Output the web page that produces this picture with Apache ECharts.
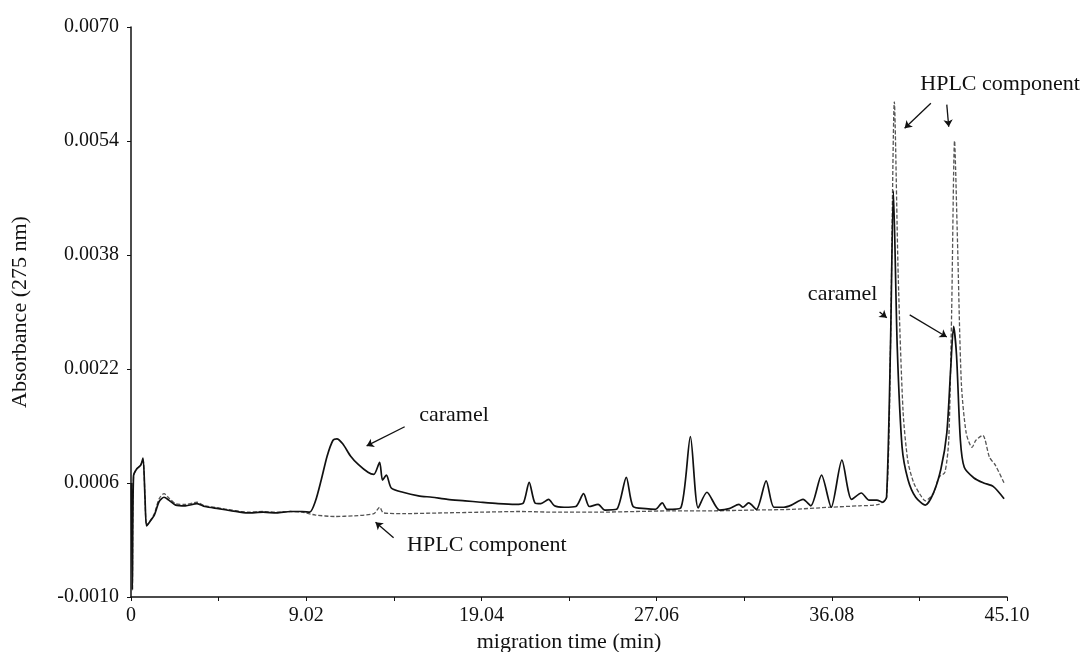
<!DOCTYPE html>
<html>
<head>
<meta charset="utf-8">
<script src="https://cdn.jsdelivr.net/npm/echarts@6/dist/echarts.min.js"></script>
<style>
html,body{margin:0;padding:0;background:#fff;}
#chart{width:1086px;height:652px;}
</style>
</head>
<body>
<div id="chart"></div>
<script>
// ---- data (migration time in min, absorbance at 275 nm) ----
var caramelTime = [0.02,0.07,0.13,0.3,0.5,0.62,0.72,0.8,0.95,1.2,1.45,1.7,1.95,2.3,2.8,3.4,3.8,4.5,5.2,6.0,6.8,7.5,8.2,8.8,9.2,9.5,9.8,10.1,10.4,10.6,10.9,11.3,11.7,12.2,12.5,12.8,12.95,13.15,13.4,14.0,14.8,15.5,16.3,17.2,18.0,18.9,19.8,20.2,20.5,20.8,21.1,21.5,21.8,22.3,22.9,23.3,23.6,24.05,24.4,25.0,25.5,25.85,26.5,27.0,27.35,27.6,28.3,28.8,29.2,29.65,30.3,30.8,31.3,31.5,31.8,32.2,32.7,33.1,33.6,34.0,34.6,35.0,35.55,36.05,36.6,37.1,37.6,38.0,38.4,38.7,38.9,39.1,39.25,39.45,39.7,40.0,40.4,40.9,41.3,41.7,42.0,42.2,42.35,42.5,42.7,42.9,43.4,43.9,44.4,44.95];
var caramelAbs = [0.0006,-0.0009,0.0007,0.0008,0.00085,0.00095,0.0004,0.0,0.00005,0.00015,0.00034,0.0004,0.00036,0.00029,0.00028,0.00031,0.00027,0.00024,0.00021,0.00018,0.00019,0.00018,0.0002,0.0002,0.00019,0.00035,0.00065,0.00098,0.0012,0.00122,0.00115,0.00098,0.00086,0.00075,0.00072,0.00089,0.00064,0.00071,0.00053,0.00047,0.00042,0.0004,0.00037,0.00035,0.00033,0.00031,0.0003,0.00032,0.00061,0.00032,0.00031,0.00037,0.00028,0.00026,0.00027,0.00045,0.00027,0.0003,0.00022,0.00023,0.00068,0.00027,0.00024,0.00023,0.00032,0.00023,0.00025,0.00125,0.00025,0.00047,0.00022,0.00024,0.0003,0.00026,0.00032,0.00023,0.00063,0.00026,0.00026,0.00029,0.00037,0.00028,0.00071,0.00026,0.00092,0.00037,0.00046,0.00036,0.00036,0.00033,0.0004,0.0025,0.0047,0.0025,0.0011,0.00065,0.0004,0.00029,0.00045,0.0008,0.0013,0.0022,0.0028,0.0024,0.0012,0.00082,0.00067,0.0006,0.00055,0.00038];

var hplcTime = [0.02,0.07,0.13,0.3,0.5,0.62,0.72,0.8,0.95,1.2,1.45,1.7,1.95,2.3,2.8,3.4,3.8,4.5,5.2,6.0,6.8,7.5,8.2,8.8,9.5,10.5,11.5,12.5,12.8,13.0,14.0,16.0,18.0,20.0,22.0,24.0,26.0,28.0,30.0,32.0,34.0,36.0,37.5,38.5,38.9,39.1,39.3,39.5,39.75,40.0,40.3,40.6,40.9,41.3,41.6,41.9,42.1,42.25,42.4,42.55,42.75,43.0,43.3,43.5,43.85,44.2,44.5,44.95];
var hplcAbs = [0.0006,-0.0009,0.0007,0.0008,0.00085,0.00093,0.0004,0.0,0.00005,0.00017,0.00038,0.00045,0.00039,0.00031,0.0003,0.00033,0.00028,0.00025,0.00022,0.00019,0.0002,0.00019,0.0002,0.00019,0.00015,0.00013,0.00014,0.00017,0.00026,0.00018,0.00017,0.00018,0.00019,0.0002,0.00019,0.00019,0.0002,0.00021,0.00021,0.00022,0.00023,0.00026,0.00028,0.0003,0.0004,0.0025,0.00595,0.0035,0.0016,0.0009,0.0006,0.00045,0.00035,0.00045,0.00068,0.00075,0.0012,0.003,0.0054,0.004,0.002,0.0013,0.0011,0.0012,0.00127,0.00096,0.00085,0.0006];

// ---- axis ticks ----
var xTickValues = [0,4.51,9.02,13.53,18.04,22.55,27.06,31.57,36.08,40.59,45.10];
var xLabelValues = [0,9.02,18.04,27.06,36.08,45.10];
var xTickLabels = ['0','9.02','19.04','27.06','36.08','45.10'];
var yTickValues = [-0.0010,0.0006,0.0022,0.0038,0.0054,0.0070];
var yTickLabels = ['-0.0010','0.0006','0.0022','0.0038','0.0054','0.0070'];

// ---- annotations (data coordinates) ----
var noteTexts = ['caramel','HPLC component','HPLC component','caramel'];
var notePos = [[16.63,0.00155],[18.32,-0.00028],[44.74,0.00619],[36.64,0.00325]];
var arrowFrom = [[14.09,0.00139],[13.52,-0.00017],[41.18,0.00593],[42.0,0.00591],[38.54,0.0030],[40.09,0.00296]];
var arrowTo = [[12.13,0.00112],[12.59,0.00005],[39.83,0.00558],[42.1,0.0056],[38.91,0.00292],[42.0,0.00265]];

function pairs(xs, ys){ return xs.map(function(x,i){ return [x, ys[i]]; }); }

var FONT = '"Liberation Serif", "DejaVu Serif", serif';
var chart = echarts.init(document.getElementById('chart'), null, {renderer:'canvas'});

var option = {
  animation: false,
  backgroundColor: '#fff',
  grid: {left: 131, right: 79, top: 27, bottom: 55, containLabel: false, outerBoundsMode: 'none'},
  xAxis: {
    type: 'value', min: 0, max: 45.1,
    name: 'migration time (min)', nameLocation: 'middle', nameGap: 29,
    nameTextStyle: {fontFamily: FONT, fontSize: 22, color: '#111'},
    axisLine: {show: true, onZero: false, lineStyle: {color: '#111', width: 1.5}},
    axisTick: {show: true, customValues: xTickValues, length: 4, lineStyle: {color: '#111'}},
    axisLabel: {customValues: xLabelValues, fontFamily: FONT, fontSize: 20, color: '#111', margin: 9,
      formatter: function(v){ var i = xLabelValues.findIndex(function(a){return Math.abs(a-v)<1e-6;}); return i>=0 ? xTickLabels[i] : ''; }},
    splitLine: {show: false}
  },
  yAxis: {
    type: 'value', min: -0.001, max: 0.007,
    name: 'Absorbance (275 nm)', nameLocation: 'middle', nameGap: 100, nameRotate: 90,
    nameTextStyle: {fontFamily: FONT, fontSize: 22, color: '#111'},
    axisLine: {show: true, onZero: false, lineStyle: {color: '#111', width: 1.5}},
    axisTick: {show: true, customValues: yTickValues, length: 4, lineStyle: {color: '#111'}},
    axisLabel: {customValues: yTickValues, fontFamily: FONT, fontSize: 20, color: '#111', margin: 12,
      formatter: function(v){ var i = yTickValues.findIndex(function(a){return Math.abs(a-v)<1e-9;}); return i>=0 ? yTickLabels[i] : ''; }},
    splitLine: {show: false}
  },
  series: [
    {
      name: 'HPLC component', type: 'line', data: pairs(hplcTime, hplcAbs),
      showSymbol: false, smooth: 0.25, z: 2,
      lineStyle: {color: '#555', width: 1.3, type: [4, 2]}
    },
    {
      name: 'caramel', type: 'line', data: pairs(caramelTime, caramelAbs),
      showSymbol: false, smooth: 0.25, z: 3,
      lineStyle: {color: '#111', width: 1.7},
      markLine: {
        silent: true, symbol: ['none', 'arrow'], symbolSize: 7, animation: false,
        label: {show: false},
        lineStyle: {color: '#111', width: 1.3, type: 'solid'},
        data: arrowFrom.map(function(f,i){ return [{coord: f}, {coord: arrowTo[i]}]; })
      },
      markPoint: {
        silent: true, symbol: 'circle', symbolSize: 0, animation: false,
        label: {show: true, position: 'inside', fontFamily: FONT, fontSize: 22, color: '#111',
          formatter: function(p){ return p.name; }},
        data: noteTexts.map(function(t,i){ return {name: t, coord: notePos[i]}; })
      }
    }
  ]
};
chart.setOption(option);
</script>
</body>
</html>
